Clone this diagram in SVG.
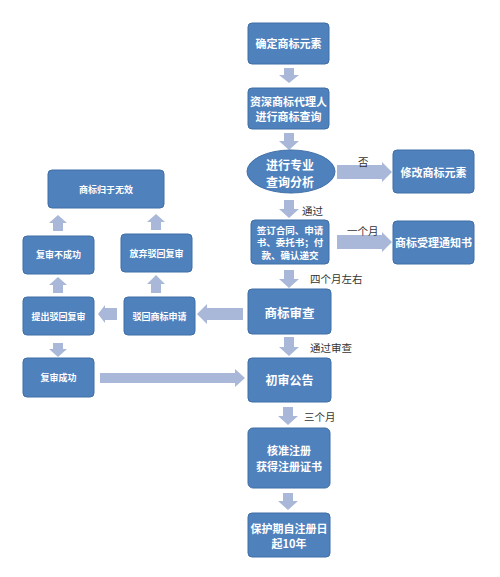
<svg xmlns="http://www.w3.org/2000/svg" width="500" height="577" viewBox="0 0 500 577">
<style>
.b{fill:#4f81bd;stroke:#3f6ea6;stroke-width:1}
.t{fill:#fff;font-family:"Noto Sans CJK SC","Noto Sans",sans-serif;font-weight:bold;text-anchor:middle;dominant-baseline:central;font-size:11px}
.s{font-size:9px}
.a{fill:#a9b8d8}
.l{fill:#333;font-family:"Noto Sans CJK SC","Noto Sans",sans-serif;font-size:10.5px;dominant-baseline:central}
</style>
<rect width="500" height="577" fill="#fff"/>
<g id="connectors">
<polygon class="a" points="284,68 294,68 294,75 299,75 289,83 279,75 284,75"/>
<polygon class="a" points="284,133 294,133 294,141 299,141 289,150 279,141 284,141"/>
<polygon class="a" points="284,200 294,200 294,209 299,209 289,218 279,209 284,209"/>
<polygon class="a" points="284,270 294,270 294,279 299,279 289,288 279,279 284,279"/>
<polygon class="a" points="284,337 294,337 294,347 299,347 289,356 279,347 284,347"/>
<polygon class="a" points="283,407 293,407 293,416 298,416 288,425 278,416 283,416"/>
<polygon class="a" points="283,493 293,493 293,501 298,501 288,510 278,501 283,501"/>
<polygon class="a" points="337,165 382,165 382,162 392,172 382,182 382,179 337,179"/>
<polygon class="a" points="337,235 382,235 382,232 392,242 382,252 382,249 337,249"/>
<polygon class="a" points="243,308 207,308 207,304 197,314 207,324 207,320 243,320"/>
<polygon class="a" points="117,308 105,308 105,305 98,314 105,323 105,320 117,320"/>
<polygon class="a" points="100,373 235,373 235,369 245,378 235,387 235,383 100,383"/>
<polygon class="a" points="53,231 63,231 63,223 67,223 58,215 49,223 53,223"/>
<polygon class="a" points="151,230 161,230 161,222 165,222 156,214 147,222 151,222"/>
<polygon class="a" points="53,293 63,293 63,285 67,285 58,277 49,285 53,285"/>
<polygon class="a" points="151,293 161,293 161,284 165,284 156,275 147,284 151,284"/>
<polygon class="a" points="53,343 63,343 63,349 67,349 58,357 49,349 53,349"/>
<text class="l" x="358" y="161">否</text>
<text class="l" x="347" y="230">一个月</text>
<text class="l" x="302" y="210">通过</text>
<text class="l" x="310" y="278">四个月左右</text>
<text class="l" x="310" y="347">通过审查</text>
<text class="l" x="304" y="416">三个月</text>
</g>
<g id="n1"><rect class="b" x="248" y="23" width="81" height="41" rx="4"/><text class="t" x="288.5" y="43">确定商标元素</text></g>
<g id="n2"><rect class="b" x="248" y="88" width="81" height="41" rx="4"/><text class="t" x="288.5" y="101">资深商标代理人</text><text class="t" x="288.5" y="116">进行商标查询</text></g>
<g id="n3"><ellipse class="b" cx="291" cy="171.5" rx="44" ry="21.5"/><text class="t" x="290" y="164" style="font-size:12px">进行专业</text><text class="t" x="290" y="181" style="font-size:12px">查询分析</text></g>
<g id="n4"><rect class="b" x="393" y="150" width="81" height="43" rx="4"/><text class="t" x="433.5" y="172">修改商标元素</text></g>
<g id="n5"><rect class="b" x="251" y="220" width="78" height="44" rx="4"/><text class="t" x="290" y="229.5" style="font-size:9.5px">签订合同、申请</text><text class="t" x="290" y="242" style="font-size:9.5px">书、委托书；付</text><text class="t" x="290" y="254.5" style="font-size:9.5px">款、确认递交</text></g>
<g id="n6"><rect class="b" x="393" y="221" width="81" height="43" rx="4"/><text class="t" x="433.5" y="242">商标受理通知书</text></g>
<g id="n7"><rect class="b" x="248" y="289" width="83" height="45" rx="4"/><text class="t" x="289.5" y="312" style="font-size:12.5px">商标审查</text></g>
<g id="n8"><rect class="b" x="124" y="297" width="71" height="38" rx="4"/><text class="t s" x="159.5" y="316">驳回商标申请</text></g>
<g id="n9"><rect class="b" x="23" y="297" width="71" height="38" rx="4"/><text class="t s" x="58.5" y="316">提出驳回复审</text></g>
<g id="n10"><rect class="b" x="23" y="358" width="71" height="39" rx="4"/><text class="t s" x="58.5" y="377">复审成功</text></g>
<g id="n11"><rect class="b" x="248" y="358" width="83" height="44" rx="4"/><text class="t" x="289.5" y="379" style="font-size:12px">初审公告</text></g>
<g id="n12"><rect class="b" x="23" y="236" width="71" height="38" rx="4"/><text class="t s" x="58.5" y="254">复审不成功</text></g>
<g id="n13"><rect class="b" x="121" y="234" width="71" height="38" rx="4"/><text class="t s" x="156.5" y="253">放弃驳回复审</text></g>
<g id="n14"><rect class="b" x="48" y="170" width="116" height="38" rx="4"/><text class="t s" x="106" y="189">商标归于无效</text></g>
<g id="n15"><rect class="b" x="248" y="428" width="82" height="60" rx="5"/><text class="t" x="289" y="450">核准注册</text><text class="t" x="289" y="466">获得注册证书</text></g>
<g id="n16"><rect class="b" x="248" y="513" width="82" height="44" rx="4"/><text class="t" x="289" y="528">保护期自注册日</text><text class="t" x="289" y="543">起10年</text></g>
</svg>
